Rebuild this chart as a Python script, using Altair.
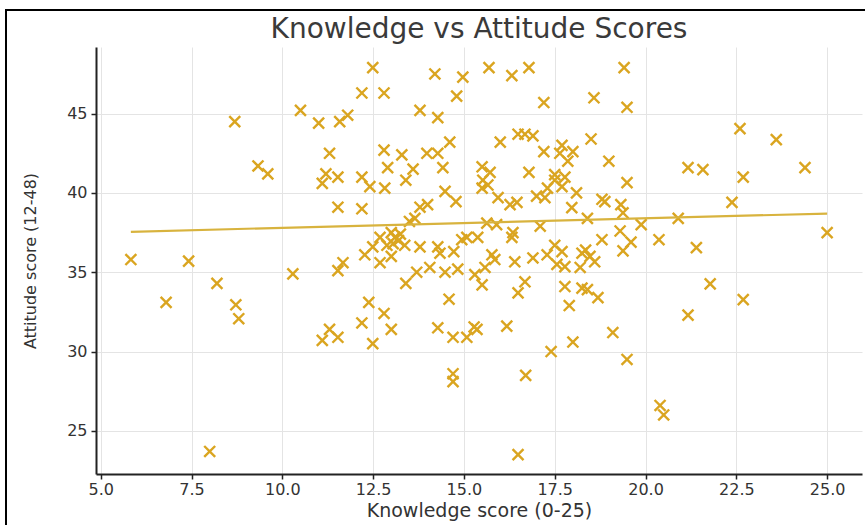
import altair as alt
import pandas as pd

# Knowledge (0-25) and attitude (12-48) scores per respondent
knowledge = [
    5.83, 7.42, 6.8, 8.2, 8.72, 8.8, 8.0, 8.69, 9.33, 9.6,
    10.5, 10.29, 11.0, 11.58, 11.8, 11.3, 11.2, 11.53, 11.1, 11.53,
    11.53, 11.67, 11.3, 11.1, 11.53, 12.49, 12.19, 12.8, 12.8, 13.29,
    12.9, 12.19, 12.41, 12.82, 13.4, 12.19, 12.69, 12.88, 12.49, 12.27,
    12.69, 13.0, 13.0, 13.1, 13.2, 13.05, 13.25, 13.37, 13.5, 13.65,
    12.49, 12.19, 13.0, 12.8, 12.38, 13.4, 13.7, 13.79, 14.06, 14.48,
    14.83, 14.28, 14.34, 14.72, 14.94, 13.79, 14.0, 14.48, 14.78, 13.6,
    14.42, 13.98, 14.28, 14.61, 13.79, 14.28, 14.2, 14.97, 14.8, 15.69,
    16.32, 16.79, 17.2, 18.58, 19.41, 19.49, 16.0, 16.49, 16.68, 16.9,
    17.2, 17.7, 17.64, 18.0, 17.86, 18.5, 15.5, 15.72, 16.79, 17.5,
    17.78, 15.52, 15.66, 15.5, 17.5, 17.7, 17.3, 18.1, 18.8, 15.94,
    16.27, 16.46, 17.0, 17.23, 17.97, 18.4, 15.63, 15.9, 17.1, 16.35,
    16.32, 15.38, 15.08, 15.77, 15.85, 16.4, 16.9, 17.29, 17.5, 17.7,
    17.56, 17.78, 18.2, 18.25, 18.47, 18.35, 15.3, 15.58, 15.5, 16.68,
    16.49, 17.78, 18.25, 18.4, 14.59, 17.9, 18.0, 17.4, 16.7, 16.49,
    14.7, 14.7, 14.28, 14.7, 15.08, 15.36, 15.28, 16.18, 18.69, 19.1,
    19.49, 18.6, 18.99, 19.49, 18.88, 19.32, 19.38, 19.88, 19.3, 18.8,
    19.6, 19.38, 20.9, 20.37, 21.4, 21.17, 21.58, 22.6, 23.6, 22.69,
    24.39, 22.38, 25.0, 21.78, 22.69, 21.17, 20.4, 20.5,
]
attitude = [
    35.8, 35.7, 33.1, 34.3, 32.95, 32.07, 23.7, 44.5, 41.7, 41.2,
    45.2, 34.9, 44.4, 44.5, 44.9, 42.5, 41.2, 41.0, 40.6, 39.1,
    35.1, 35.6, 31.4, 30.7, 30.9, 47.9, 46.3, 46.3, 42.7, 42.4,
    41.6, 41.0, 40.4, 40.3, 40.8, 39.0, 37.2, 36.7, 36.6, 36.1,
    35.6, 36.0, 37.5, 37.2, 37.0, 36.8, 37.4, 36.7, 38.2, 38.4,
    30.5, 31.8, 31.4, 32.4, 33.1, 34.3, 35.0, 36.6, 35.3, 35.0,
    35.2, 36.6, 36.2, 36.3, 37.05, 39.1, 39.26, 40.1, 39.45, 41.5,
    41.6, 42.5, 42.5, 43.2, 45.2, 44.75, 47.5, 47.3, 46.1, 47.9,
    47.4, 47.9, 45.7, 46.0, 47.9, 45.4, 43.2, 43.7, 43.7, 43.6,
    42.6, 43.0, 42.5, 42.6, 42.0, 43.4, 41.65, 41.3, 41.3, 41.15,
    41.0, 40.8, 40.5, 40.3, 40.8, 40.4, 40.3, 40.0, 39.6, 39.7,
    39.26, 39.4, 39.8, 39.7, 39.07, 38.4, 38.1, 38.0, 37.9, 37.5,
    37.2, 37.2, 37.2, 36.1, 35.8, 35.66, 35.9, 36.1, 36.7, 36.3,
    35.5, 35.35, 35.3, 36.2, 36.0, 36.4, 34.85, 35.3, 34.2, 34.4,
    33.7, 34.1, 34.0, 33.9, 33.3, 32.9, 30.6, 30.0, 28.5, 23.5,
    28.6, 28.1, 31.5, 30.9, 30.9, 31.4, 31.55, 31.6, 33.4, 31.2,
    29.5, 35.66, 42.0, 40.65, 39.45, 39.26, 38.75, 38.0, 37.6, 37.05,
    36.9, 36.35, 38.4, 37.05, 36.55, 41.6, 41.47, 44.05, 43.36, 41.0,
    41.6, 39.4, 37.5, 34.27, 33.27, 32.3, 26.6, 26.0,
]

# Least-squares trend line, evaluated at the smallest and largest knowledge score
fit_knowledge = [5.83, 25.0]
fit_attitude = [37.55, 38.7]

x_ticks = [5.0, 7.5, 10.0, 12.5, 15.0, 17.5, 20.0, 22.5, 25.0]
y_ticks = [25, 30, 35, 40, 45]

points = pd.DataFrame({"knowledge": knowledge, "attitude": attitude})
trend = pd.DataFrame({"knowledge": fit_knowledge, "attitude": fit_attitude})

FONT = "DejaVu Sans"
MARKER = "#DAA520"
TREND = "#D8B33E"

x_scale = alt.Scale(domain=[4.87, 25.96], nice=False, zero=False)
y_scale = alt.Scale(domain=[22.28, 49.2], nice=False, zero=False)

x_enc = alt.X(
    "knowledge:Q",
    scale=x_scale,
    axis=alt.Axis(
        title="Knowledge score (0-25)",
        values=x_ticks,
        format=".1f",
        labelPadding=2,
        titlePadding=4,
        titleFontSize=19,
    ),
)
y_enc = alt.Y(
    "attitude:Q",
    scale=y_scale,
    axis=alt.Axis(
        title="Attitude score (12-48)",
        values=y_ticks,
        format="d",
        labelPadding=4,
        titlePadding=28,
        titleFontSize=16,
    ),
)

scatter = alt.Chart(points).mark_point(
    shape="M -1 -1 L 1 1 M -1 1 L 1 -1",
    filled=False,
    stroke=MARKER,
    strokeWidth=2.4,
    size=120,
    opacity=1,
).encode(x=x_enc, y=y_enc)

line = alt.Chart(trend).mark_line(color=TREND, strokeWidth=2.2).encode(
    x=alt.X("knowledge:Q", scale=x_scale),
    y=alt.Y("attitude:Q", scale=y_scale),
)

# thin black border around the figure (left and top edges visible)
frame = alt.Chart(alt.Data(values=[{}])).mark_rect(
    fillOpacity=0, stroke="black", strokeWidth=2
).encode(
    x=alt.value(-90), x2=alt.value(900),
    y=alt.value(-37), y2=alt.value(600),
)

chart = (
    alt.layer(scatter, line, frame)
    .properties(
        width=766,
        height=427,
        title=alt.TitleParams(
            "Knowledge vs Attitude Scores",
            font=FONT,
            fontSize=28,
            fontWeight="normal",
            color="#3a3a3a",
            anchor="middle",
            offset=5,
            dy=40,
        ),
        autosize=alt.AutoSizeParams(type="none"),
        padding={"left": 96, "top": 47, "right": 3, "bottom": 51},
        background="white",
    )
    .configure_view(stroke=None)
    .configure_axis(
        labelFont=FONT,
        titleFont=FONT,
        labelFontSize=16,
        labelColor="#333333",
        titleColor="#333333",
        titleFontWeight="normal",
        domainColor="#222222",
        domainWidth=2,
        tickColor="#222222",
        tickSize=5,
        tickWidth=1.5,
        gridColor="#e4e4e4",
        gridWidth=1,
    )
)

chart.save("out.html", embed_options={"renderer": "svg", "actions": False})
